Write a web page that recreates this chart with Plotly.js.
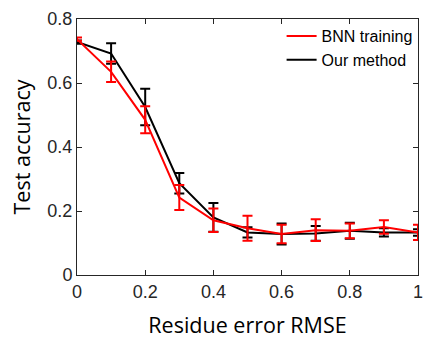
<!DOCTYPE html>
<html><head><meta charset="utf-8">
<script src="https://cdn.plot.ly/plotly-3.0.1.min.js"></script>
<style>html,body{margin:0;padding:0;background:#fff}#c{width:425px;height:339px}</style>
</head><body><div id="c"></div>
<script>
const rmse = [0, 0.1, 0.2, 0.3, 0.4, 0.5, 0.6, 0.7, 0.8, 0.9, 1.0];
const bnnAcc = [0.737, 0.635, 0.485, 0.242, 0.171, 0.146, 0.128, 0.140, 0.138, 0.150, 0.133];
const bnnErr = [0.005, 0.032, 0.042, 0.039, 0.037, 0.039, 0.029, 0.034, 0.023, 0.021, 0.024];
const ourAcc = [0.728, 0.692, 0.525, 0.287, 0.180, 0.133, 0.128, 0.130, 0.138, 0.133, 0.133];
const ourErr = [0.005, 0.032, 0.057, 0.032, 0.045, 0.016, 0.033, 0.023, 0.025, 0.013, 0.010];
const xTicks = [0, 0.2, 0.4, 0.6, 0.8, 1];
const xTickText = ['0', '0.2', '0.4', '0.6', '0.8', '1'];
const yTicks = [0, 0.2, 0.4, 0.6, 0.8];
const yTickText = ['0', '0.2', '0.4', '0.6', '0.8'];

const traces = [
  {x: rmse, y: ourAcc, name: 'Our method', type: 'scatter', mode: 'lines',
   line: {color: '#000000', width: 2},
   error_y: {type: 'data', array: ourErr, visible: true, color: '#000000', thickness: 2, width: 5}},
  {x: rmse, y: bnnAcc, name: 'BNN training', type: 'scatter', mode: 'lines',
   line: {color: '#ff0000', width: 2},
   error_y: {type: 'data', array: bnnErr, visible: true, color: '#ff0000', thickness: 2, width: 5}}
];
const axisCommon = {showgrid: false, zeroline: false, ticks: 'inside', ticklen: 5, tickwidth: 1,
  tickcolor: '#262626', linecolor: '#262626', linewidth: 1, showline: true, mirror: 'ticks',
  ticklabeloverflow: 'allow',
  tickfont: {family: 'Liberation Sans, Arial, sans-serif', size: 18, color: '#262626'}};
const layout = {
  width: 425, height: 339, margin: {l: 77, r: 7, t: 19, b: 64},
  paper_bgcolor: '#fff', plot_bgcolor: '#fff', showlegend: true,
  legend: {x: 0.6, y: 1.0, xanchor: 'left', yanchor: 'top', traceorder: 'reversed',
    bgcolor: 'rgba(0,0,0,0)', borderwidth: 0, tracegroupgap: 0,
    font: {family: 'Liberation Sans, Arial, sans-serif', size: 16, color: '#000'}},
  xaxis: Object.assign({}, axisCommon, {range: [0, 1], tickvals: xTicks, ticktext: xTickText,
    title: {text: 'Residue error RMSE', standoff: 17, font: {family: 'Open Sans, sans-serif', size: 21.5, color: '#000'}}}),
  yaxis: Object.assign({}, axisCommon, {range: [0, 0.8], tickvals: yTicks, ticktext: yTickText,
    title: {text: 'Test accuracy', standoff: 10, font: {family: 'Open Sans, sans-serif', size: 21.5, color: '#000'}}})
};
Plotly.newPlot('c', traces, layout, {displayModeBar: false, staticPlot: true});
</script></body></html>
